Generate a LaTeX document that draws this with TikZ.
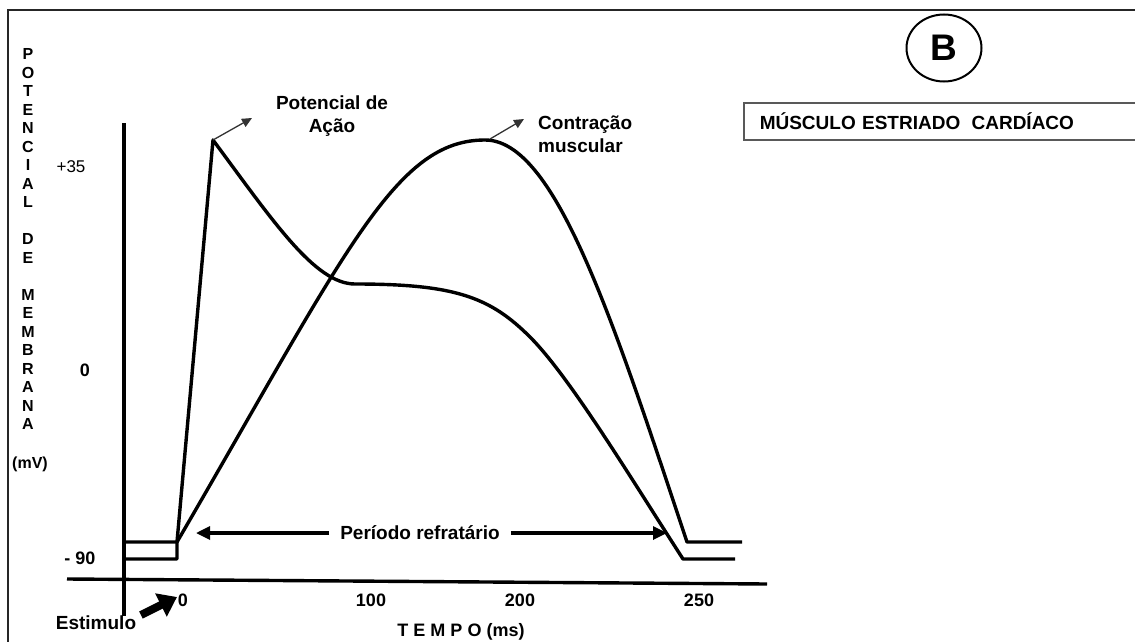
\documentclass[tikz,border=0pt]{standalone}
\usepackage{fontspec}
\setmainfont{Liberation Sans}
\usetikzlibrary{arrows.meta,shapes.geometric}
\begin{document}
\begin{tikzpicture}[x=1pt,y=-1pt,
  curve/.style={line width=3.4pt, line join=round},
  axisline/.style={line width=3.4pt},
  framel/.style={line width=2.2pt, draw=black!85},
  smallarr/.style={line width=1.3pt, draw=black!80, -{Triangle[length=10pt,width=9pt]}},
  perarr/.style={line width=3.2pt, -{Triangle[length=14pt,width=13pt]}},
  stimarr/.style={line width=8pt, -{Triangle[length=18pt,width=25pt]}},
  lbl/.style={font=\fontsize{19}{23}\selectfont\bfseries, inner sep=0pt},
  tick/.style={font=\fontsize{18}{20}\selectfont\bfseries, inner sep=0pt},
  ylet/.style={font=\fontsize{16}{17}\selectfont\bfseries, inner sep=0pt},
]
\useasboundingbox (0,0) rectangle (1135,642);
\fill[white] (0,0) rectangle (1135,642);

% frame
\draw[framel] (8,642) -- (8,10) -- (1135,10);

% axes
\coordinate (vtop) at (124,123);
\coordinate (vbot) at (124,616);
\coordinate (hl) at (67,579);
\coordinate (hr) at (767,584);
\draw[axisline] (vtop) -- (vbot);
\draw[axisline] (hl) -- (hr);

% resting levels
\coordinate (L1) at (124,542); \coordinate (L2) at (177,542);
\coordinate (B1) at (124,559); \coordinate (B2) at (177,559);
\coordinate (appeak) at (213,140);
\coordinate (apa1) at (355,284);
\coordinate (apa2) at (530,337);
\coordinate (apend) at (683,559);
\coordinate (aprest) at (735,559);
\coordinate (cpeak) at (485,140);
\coordinate (cend) at (687,542);
\coordinate (crest) at (742,542);

% action potential
\draw[curve] (B1) -- (B2) -- (L2) -- (appeak)
  .. controls (273,221) and (315,284) .. (apa1)
  .. controls (455,284) and (490,297) .. (apa2)
  .. controls (570,377) and (633,481.5) .. (apend)
  -- (aprest);

% muscular contraction
\draw[curve] (L1) -- (L2) .. controls (347,250) and (395,140) .. (cpeak)
  .. controls (555,140) and (612,317) .. (cend) -- (crest);

% small label arrows
\coordinate (apa) at (252,118);
\coordinate (cst) at (490,139);
\coordinate (cta) at (524,119);
\draw[smallarr] (appeak) -- (apa);
\draw[smallarr] (cst) -- (cta);

\node[lbl, align=center] (aplab) at (332,116) {Potencial de\\Ação};
\node[lbl, align=left, anchor=west] (ctlab) at (538,134) {Contração\\muscular};

% refractory period
\node[lbl, inner xsep=11pt] (per) at (420,533) {Período refratário};
\coordinate (perL) at (196,533);
\coordinate (perR) at (667,533);
\draw[perarr] (per.west) -- (perL);
\draw[perarr] (per.east) -- (perR);

% B circle and title box
\node[draw, ellipse, line width=2pt, minimum width=75pt, minimum height=67pt, inner sep=0pt,
      font=\fontsize{37}{40}\selectfont\bfseries] (bcirc) at (944,48) {B};
\node[draw=black!65, line width=1.5pt, anchor=west, text width=400pt, align=left,
      inner xsep=16pt, inner ysep=0pt, minimum height=37pt, font=\fontsize{19}{22}\selectfont\bfseries]
      (title) at (743,121.5) {MÚSCULO ESTRIADO\hspace{5pt} CARDÍACO};

% stimulus
\node[lbl] (estim) at (96,623) {Estimulo};
\coordinate (stt) at (141,615);
\coordinate (sth) at (177,597);
\draw[stimarr] (stt) -- (sth);

% time ticks
\node[tick] (t0) at (183,600) {0};
\node[tick] (t100) at (371,600) {100};
\node[tick] (t200) at (520,600) {200};
\node[tick] (t250) at (699,600) {250};
\node[tick] (tempo) at (461,632) {T E M P O (ms)};

% potential ticks
\node[font=\fontsize{17}{20}\selectfont, inner sep=0pt] (p35) at (71,167) {+35};
\node[tick] (z0) at (85,370) {0};
\node[tick] (m90) at (80,558) {- 90};

% vertical axis title
\foreach \ch/\k in {P/0,O/1,T/2,E/3,N/4,C/5,I/6,A/7,L/8,D/10,E/11,M/13,E/14,M/15,B/16,R/17,A/18,N/19,A/20}
  \node[ylet] (yl\k) at (28,{54+18.5*\k}) {\ch};
\node[ylet] (mv) at (30,464) {(mV)};
\end{tikzpicture}
\end{document}
